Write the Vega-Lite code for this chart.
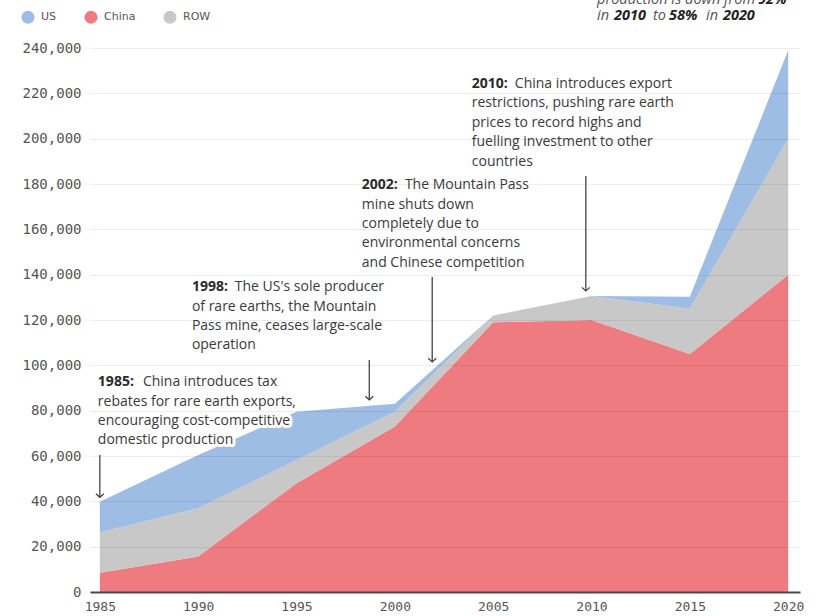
{
  "$schema": "https://vega.github.io/schema/vega-lite/v6.json",
  "width": 710,
  "height": 544,
  "autosize": {"type": "none"},
  "padding": {"left": 90, "top": 48, "right": 17, "bottom": 24},
  "background": "white",
  "config": {"view": {"stroke": null}, "font": "Open Sans"},
  "datasets": {
    "production": [
      {"year": 1985, "region": "China", "value": 8500, "stack": 1},
      {"year": 1985, "region": "ROW", "value": 17800, "stack": 2},
      {"year": 1985, "region": "US", "value": 13500, "stack": 3},
      {"year": 1990, "region": "China", "value": 15700, "stack": 1},
      {"year": 1990, "region": "ROW", "value": 21200, "stack": 2},
      {"year": 1990, "region": "US", "value": 23500, "stack": 3},
      {"year": 1995, "region": "China", "value": 48000, "stack": 1},
      {"year": 1995, "region": "ROW", "value": 10200, "stack": 2},
      {"year": 1995, "region": "US", "value": 21300, "stack": 3},
      {"year": 2000, "region": "China", "value": 73000, "stack": 1},
      {"year": 2000, "region": "ROW", "value": 6500, "stack": 2},
      {"year": 2000, "region": "US", "value": 3500, "stack": 3},
      {"year": 2005, "region": "China", "value": 119000, "stack": 1},
      {"year": 2005, "region": "ROW", "value": 3000, "stack": 2},
      {"year": 2005, "region": "US", "value": 0, "stack": 3},
      {"year": 2010, "region": "China", "value": 120000, "stack": 1},
      {"year": 2010, "region": "ROW", "value": 10600, "stack": 2},
      {"year": 2010, "region": "US", "value": 0, "stack": 3},
      {"year": 2015, "region": "China", "value": 105000, "stack": 1},
      {"year": 2015, "region": "ROW", "value": 20000, "stack": 2},
      {"year": 2015, "region": "US", "value": 5300, "stack": 3},
      {"year": 2020, "region": "China", "value": 140000, "stack": 1},
      {"year": 2020, "region": "ROW", "value": 60000, "stack": 2},
      {"year": 2020, "region": "US", "value": 39000, "stack": 3}
    ],
    "arrows": [
      {"year": 1985, "value": 60400, "tip": 41800},
      {"year": 1998.7, "value": 102300, "tip": 84800},
      {"year": 2001.9, "value": 139000, "tip": 101500},
      {"year": 2009.71, "value": 183500, "tip": 132800}
    ],
    "notes": [
      {"year": 1987.19, "value": 92650, "text": "China introduces tax"},
      {"year": 1984.9, "value": 83800, "text": "rebates for rare earth exports,"},
      {"year": 1984.9, "value": 75440, "text": "encouraging cost-competitive"},
      {"year": 1984.9, "value": 67060, "text": "domestic production"},
      {"year": 1991.86, "value": 134430, "text": "The US's sole producer"},
      {"year": 1989.68, "value": 125870, "text": "of rare earths, the Mountain"},
      {"year": 1989.68, "value": 117490, "text": "Pass mine, ceases large-scale"},
      {"year": 1989.68, "value": 108970, "text": "operation"},
      {"year": 2000.51, "value": 179560, "text": "The Mountain Pass"},
      {"year": 1998.32, "value": 170740, "text": "mine shuts down"},
      {"year": 1998.32, "value": 162220, "text": "completely due to"},
      {"year": 1998.32, "value": 153840, "text": "environmental concerns"},
      {"year": 1998.32, "value": 145280, "text": "and Chinese competition"},
      {"year": 2006.1, "value": 224120, "text": "China introduces export"},
      {"year": 2003.91, "value": 215600, "text": "restrictions, pushing rare earth"},
      {"year": 2003.91, "value": 206780, "text": "prices to record highs and"},
      {"year": 2003.91, "value": 198660, "text": "fuelling investment to other"},
      {"year": 2003.91, "value": 189840, "text": "countries"}
    ],
    "notesBold": [
      {"year": 1984.9, "value": 92650, "text": "1985:"},
      {"year": 1989.68, "value": 134430, "text": "1998:"},
      {"year": 1998.32, "value": 179560, "text": "2002:"},
      {"year": 2003.91, "value": 224120, "text": "2010:"}
    ],
    "share": [
      {"year": 2010.28, "value": 261200, "text": "production is down from"},
      {"year": 2010.28, "value": 254100, "text": "in"},
      {"year": 2013.13, "value": 254100, "text": "to"},
      {"year": 2015.82, "value": 254100, "text": "in"}
    ],
    "shareBold": [
      {"year": 2018.46, "value": 261200, "text": "92%"},
      {"year": 2011.14, "value": 254100, "text": "2010"},
      {"year": 2013.94, "value": 254100, "text": "58%"},
      {"year": 2016.68, "value": 254100, "text": "2020"}
    ]
  },
  "layer": [
    {
      "data": {"name": "production"},
      "mark": {"type": "area", "opacity": 1},
      "encoding": {
        "x": {
          "field": "year", "type": "quantitative", "title": null,
          "scale": {"domain": [1984.5, 2020.6], "nice": false, "zero": false},
          "axis": {
            "values": [1985, 1990, 1995, 2000, 2005, 2010, 2015, 2020],
            "labelExpr": "format(datum.value, 'd')", "grid": false, "ticks": false,
            "domain": true, "domainColor": "#4a4a4a", "domainWidth": 2,
            "labelFont": "DejaVu Sans Mono", "labelFontSize": 13, "labelColor": "#555555",
            "labelPadding": 8, "zindex": 1
          }
        },
        "y": {
          "field": "value", "type": "quantitative", "title": null, "stack": "zero",
          "scale": {"domain": [0, 240000], "nice": false},
          "axis": {
            "values": [0, 20000, 40000, 60000, 80000, 100000, 120000, 140000, 160000, 180000, 200000, 220000, 240000],
            "labelExpr": "format(datum.value, ',')", "grid": true, "gridColor": "#000000", "gridOpacity": 0.07,
            "domain": false, "ticks": false,
            "labelFont": "DejaVu Sans Mono", "labelFontSize": 14, "labelColor": "#555555",
            "labelPadding": 9, "zindex": 1
          }
        },
        "color": {
          "field": "region", "type": "nominal",
          "scale": {"domain": ["US", "China", "ROW"], "range": ["#9ebde4", "#ee7b7f", "#c8c8c8"]},
          "legend": {
            "title": null, "orient": "none", "legendX": -69, "legendY": -38,
            "direction": "horizontal", "symbolType": "circle", "symbolSize": 170,
            "symbolStrokeWidth": 0, "symbolOpacity": 1,
            "labelFont": "DejaVu Sans", "labelFontSize": 11, "labelColor": "#555555",
            "labelOffset": 6, "columnPadding": 27
          }
        },
        "order": {"field": "stack", "type": "quantitative"}
      }
    },
    {
      "data": {"name": "arrows"},
      "mark": {"type": "rule", "color": "#444444", "strokeWidth": 1.3},
      "encoding": {
        "x": {"field": "year", "type": "quantitative", "title": null},
        "y": {"field": "value", "type": "quantitative", "title": null},
        "y2": {"field": "tip"}
      }
    },
    {
      "data": {"name": "arrows"},
      "mark": {"type": "point", "shape": "M-1,-0.9L0,0L1,-0.9", "filled": false, "stroke": "#444444", "strokeWidth": 1.3, "size": 64, "opacity": 1},
      "encoding": {
        "x": {"field": "year", "type": "quantitative", "title": null},
        "y": {"field": "tip", "type": "quantitative", "title": null}
      }
    },
    {
      "data": {"name": "notes"},
      "mark": {"type": "text", "align": "left", "baseline": "middle", "font": "Open Sans", "fontSize": 14, "color": "white", "stroke": "white", "strokeWidth": 6, "strokeJoin": "round"},
      "encoding": {
        "x": {"field": "year", "type": "quantitative", "title": null},
        "y": {"field": "value", "type": "quantitative", "title": null},
        "text": {"field": "text"}
      }
    },
    {
      "data": {"name": "notesBold"},
      "mark": {"type": "text", "align": "left", "baseline": "middle", "font": "Open Sans", "fontSize": 14, "fontWeight": "bold", "color": "white", "stroke": "white", "strokeWidth": 6, "strokeJoin": "round"},
      "encoding": {
        "x": {"field": "year", "type": "quantitative", "title": null},
        "y": {"field": "value", "type": "quantitative", "title": null},
        "text": {"field": "text"}
      }
    },
    {
      "data": {"name": "notes"},
      "mark": {"type": "text", "align": "left", "baseline": "middle", "font": "Open Sans", "fontSize": 14, "color": "#3a3a3a"},
      "encoding": {
        "x": {"field": "year", "type": "quantitative", "title": null},
        "y": {"field": "value", "type": "quantitative", "title": null},
        "text": {"field": "text"}
      }
    },
    {
      "data": {"name": "notesBold"},
      "mark": {"type": "text", "align": "left", "baseline": "middle", "font": "Open Sans", "fontSize": 14, "fontWeight": "bold", "color": "#2a2a2a"},
      "encoding": {
        "x": {"field": "year", "type": "quantitative", "title": null},
        "y": {"field": "value", "type": "quantitative", "title": null},
        "text": {"field": "text"}
      }
    },
    {
      "data": {"name": "share"},
      "mark": {"type": "text", "align": "left", "baseline": "middle", "font": "Open Sans", "fontSize": 14.5, "fontStyle": "italic", "color": "#555555"},
      "encoding": {
        "x": {"field": "year", "type": "quantitative", "title": null},
        "y": {"field": "value", "type": "quantitative", "title": null},
        "text": {"field": "text"}
      }
    },
    {
      "data": {"name": "shareBold"},
      "mark": {"type": "text", "align": "left", "baseline": "middle", "font": "Open Sans", "fontSize": 14.5, "fontStyle": "italic", "fontWeight": "bold", "color": "#222222"},
      "encoding": {
        "x": {"field": "year", "type": "quantitative", "title": null},
        "y": {"field": "value", "type": "quantitative", "title": null},
        "text": {"field": "text"}
      }
    }
  ]
}
